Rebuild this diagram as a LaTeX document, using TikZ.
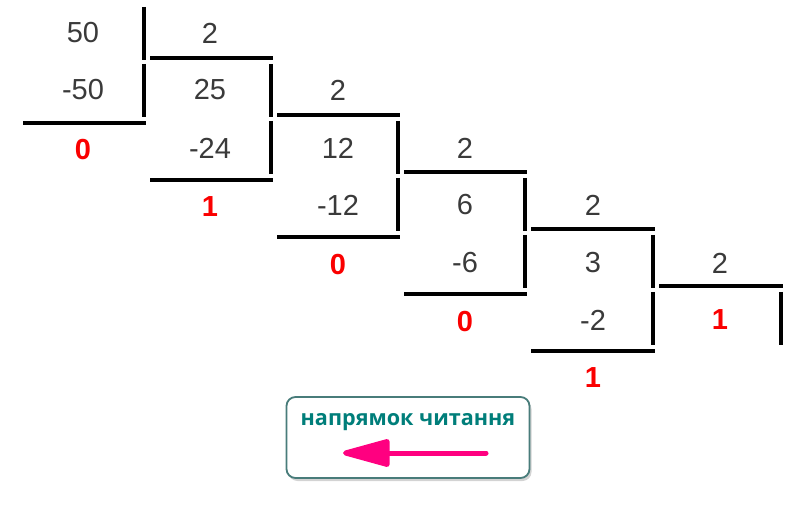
\documentclass[tikz,border=0pt]{standalone}
\usepackage{fontspec}
\setmainfont{Liberation Sans}
\newfontfamily\legendfont{Open Sans}
\usetikzlibrary{positioning,shadows,arrows.meta}
\definecolor{numgray}{RGB}{58,58,58}
\definecolor{remred}{RGB}{250,0,0}
\definecolor{legendteal}{RGB}{0,126,122}
\definecolor{legendframe}{RGB}{72,124,122}
\definecolor{readpink}{RGB}{255,0,128}
\tikzset{
  num/.style={text=numgray,font=\fontsize{29}{30}\selectfont},
  rem/.style={text=remred,font=\fontsize{29}{30}\selectfont\bfseries},
  bar/.style={line width=3.6pt}
}

\begin{document}
\begin{tikzpicture}[x=1pt,y=-1pt]
\useasboundingbox (0,0) rectangle (811,518);
% column 50
\node (n50) [num] at (83,33) {50};
\node (s50) [num] at (83,90) {-50};
\node (r50) [rem] at (83,150) {0};
% column 25
\node (d25) [num] at (210,33) {2};
\node (n25) [num] at (210,90) {25};
\node (s25) [num] at (210,148) {-24};
\node (r25) [rem] at (210,207) {1};
% column 12
\node (d12) [num] at (338,90) {2};
\node (n12) [num] at (338,148) {12};
\node (s12) [num] at (338,205) {-12};
\node (r12) [rem] at (338,265) {0};
% column 6
\node (d6) [num] at (465,148) {2};
\node (n6) [num] at (465,205) {6};
\node (s6) [num] at (465,263) {-6};
\node (r6) [rem] at (465,322) {0};
% column 3
\node (d3) [num] at (593,205) {2};
\node (n3) [num] at (593,263) {3};
\node (s3) [num] at (593,320) {-2};
\node (r3) [rem] at (593,378) {1};
% last quotient
\node (d1) [num] at (720,263) {2};
\node (q1) [rem] at (720,320) {1};
% division corners
\draw [bar] (144,7) -- (144,60);
\draw [bar] (144,64) -- (144,117);
\draw [bar] (150,58) -- (273,58);
\draw [bar] (23,123) -- (146,123);
\draw [bar] (271,64) -- (271,117);
\draw [bar] (271,121) -- (271,174);
\draw [bar] (277,115) -- (400,115);
\draw [bar] (150,180) -- (273,180);
\draw [bar] (398,121) -- (398,174);
\draw [bar] (398,178) -- (398,231);
\draw [bar] (404,172) -- (527,172);
\draw [bar] (277,237) -- (400,237);
\draw [bar] (525,178) -- (525,231);
\draw [bar] (525,235) -- (525,288);
\draw [bar] (531,229) -- (655,229);
\draw [bar] (404,294) -- (527,294);
\draw [bar] (653,235) -- (653,288);
\draw [bar] (653,292) -- (653,345);
\draw [bar] (659,286) -- (783,286);
\draw [bar] (531,351) -- (655,351);
\draw [bar] (781,292) -- (781,345);
% reading direction
\node (legend) [rounded corners=9pt,draw=legendframe,line width=1.8pt,fill=white,
  drop shadow={shadow xshift=2pt,shadow yshift=-3pt,opacity=0.35},
  minimum width=243pt,minimum height=81pt] at (408,437.5) {};
\node (title) [text=legendteal,font=\legendfont\fontsize{21.6}{22}\selectfont\bfseries] at (408,422) {напрямок читання};
\coordinate (readfrom) at (486,453);
\coordinate (readto) at (343,453);
\draw [readpink,line width=5pt,line cap=round,-{Triangle[length=54pt,width=28pt,round=false]}] (readfrom) -- (readto);
\end{tikzpicture}
\end{document}
